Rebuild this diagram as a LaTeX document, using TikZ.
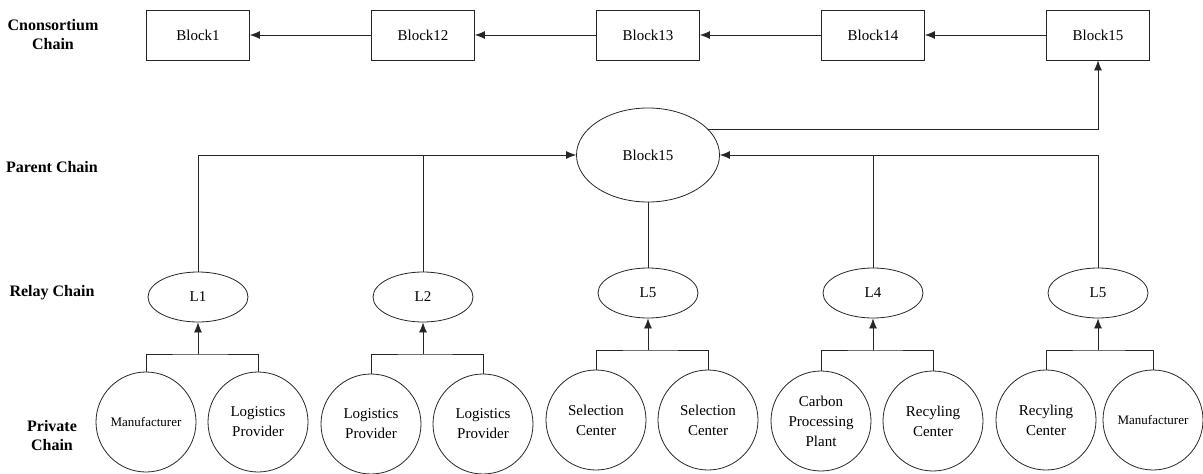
\documentclass[tikz,border=0pt]{standalone}
\usepackage{fontspec}
\setmainfont{Liberation Serif}
\usetikzlibrary{shapes.geometric,arrows.meta}
\begin{document}
\begin{tikzpicture}[x=1pt,y=-1pt,
  line width=0.8pt, draw=black!85,
  blk/.style={draw, rectangle, minimum width=103pt, minimum height=50pt, inner sep=0pt, font=\fontsize{15}{18}\selectfont},
  par/.style={draw, ellipse, minimum width=143pt, minimum height=94pt, inner sep=0pt, font=\fontsize{15}{18}\selectfont},
  rel/.style={draw, ellipse, minimum width=100pt, minimum height=50pt, inner sep=0pt, font=\fontsize{15}{18}\selectfont},
  prv/.style={draw, circle, minimum size=100pt, inner sep=0pt, align=center, font=\fontsize{15}{20}\selectfont},
  sml/.style={font=\fontsize{13}{15}\selectfont},
  lab/.style={align=center, font=\bfseries\fontsize{16}{19}\selectfont},
  arr/.style={-{Latex[length=10pt,width=8pt]}}
]
\useasboundingbox (0,0) rectangle (1203,474);
% row labels
\node[lab] (t1) at (53,35) {Cnonsortium\\Chain};
\node[lab] (t2) at (52,167) {Parent Chain};
\node[lab] (t3) at (52,293) {Relay Chain};
\node[lab] (t4) at (52,436) {Private\\Chain};
% top blocks
\node[blk] (b1) at (198,35) {Block1};
\node[blk] (b12) at (423,35) {Block12};
\node[blk] (b13) at (648,35) {Block13};
\node[blk] (b14) at (873,35) {Block14};
\node[blk] (b15) at (1098,35) {Block15};
\draw[arr] (b12) -- (b1);
\draw[arr] (b13) -- (b12);
\draw[arr] (b14) -- (b13);
\draw[arr] (b15) -- (b14);
% parent
\node[par] (P) at (648,155) {Block15};
\draw[arr] (P.23) -| (b15.south);
% relay
\node[rel] (r1) at (198,297) {L1};
\node[rel] (r2) at (423,297) {L2};
\node[rel] (r3) at (648,293) {L5};
\node[rel] (r4) at (873,293) {L4};
\node[rel] (r5) at (1098,293) {L5};
\draw[arr] (r1.north) |- (P.west);
\draw (r2.north) -- (r2.north |- P.west);
\draw[arr] (r5.north) |- (P.east);
\draw (r4.north) -- (r4.north |- P.east);
\draw (P.south) -- (r3.north);
% private
\node[prv,sml] (p1a) at (146,422) {Manufacturer};
\node[prv] (p1b) at (258,422) {Logistics\\Provider};
\node[prv] (p2a) at (371,424) {Logistics\\Provider};
\node[prv] (p2b) at (483,424) {Logistics\\Provider};
\node[prv] (p3a) at (596,420) {Selection\\Center};
\node[prv] (p3b) at (708,420) {Selection\\Center};
\node[prv] (p4a) at (821,421) {Carbon\\Processing\\Plant};
\node[prv] (p4b) at (933,421) {Recyling\\Center};
\node[prv] (p5a) at (1046,420) {Recyling\\Center};
\node[prv,sml] (p5b) at (1153,420) {Manufacturer};
% brackets
\coordinate (j1) at (198,354);
\coordinate (j2) at (423,354);
\coordinate (j3) at (648,350);
\coordinate (j4) at (873,350);
\coordinate (j5) at (1098,350);
\draw (p1a.north) |- (j1) -| (p1b.north);
\draw (p2a.north) |- (j2) -| (p2b.north);
\draw (p3a.north) |- (j3) -| (p3b.north);
\draw (p4a.north) |- (j4) -| (p4b.north);
\draw (p5a.north) |- (j5) -| (p5b.north);
\draw[arr] (j1) -- (r1.south);
\draw[arr] (j2) -- (r2.south);
\draw[arr] (j3) -- (r3.south);
\draw[arr] (j4) -- (r4.south);
\draw[arr] (j5) -- (r5.south);
\end{tikzpicture}
\end{document}
